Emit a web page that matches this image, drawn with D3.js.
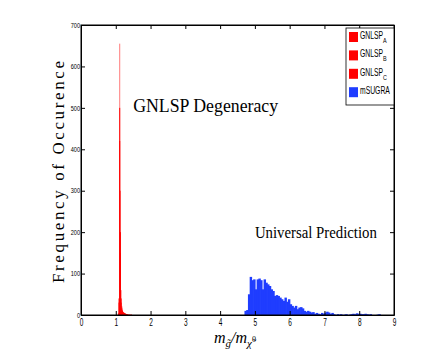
<!DOCTYPE html>
<html lang="en">
<head>
<meta charset="UTF-8">
<script src="https://cdn.jsdelivr.net/npm/d3@7"></script>
<style>
  body { margin: 0; background: #fff; }
  svg { background: #fff; }
  .tick text { font-family: "Liberation Sans", Arial, sans-serif; fill: #000; }
  .serif { font-family: "Liberation Serif", "DejaVu Serif", serif; }
</style>
</head>
<body>
<div id="chart"></div>
<script>
// histogram data
var redBinW = 0.02;
var gnlspAStart = 1.10;
var gnlspA = [655, 300, 60, 22, 12, 8, 6, 5, 4, 3, 2, 2, 1, 1];
var gnlspBStart = 1.08;
var gnlspB = [40, 500, 200, 40, 18, 10, 7, 5, 4, 3, 2, 2, 1];
var gnlspCStart = 1.06;
var gnlspC = [4, 30, 420, 150, 30, 15, 9, 6, 5, 4, 3, 2, 2, 1, 1, 1, 1, 1, 1, 1];

var blueBinW = 0.05;
var msugraStart = 4.70;
var msugra = [10, 12, 50, 92, 84, 86, 62, 86, 88, 84, 62, 86, 78, 74, 70, 62, 58, 46, 48, 46,
  42, 38, 34, 42, 32, 38, 26, 22, 18, 22, 14, 18, 19, 16, 10, 8, 10, 8, 6, 7,
  3, 5, 3, 2, 5, 3, 6, 8, 6, 3, 5, 2, 0, 2, 1, 2, 0, 1, 2, 0,
  1, 2, 3, 2, 4, 3, 3, 2, 2, 3, 2, 1, 2, 0, 0, 0, 1, 2];

var xTicks = [0, 1, 2, 3, 4, 5, 6, 7, 8, 9];
var yTicks = [0, 100, 200, 300, 400, 500, 600, 700];
var legendNames = [["GNLSP", "A"], ["GNLSP", "B"], ["GNLSP", "C"], ["mSUGRA", ""]];
var legendColors = ["#ff0000", "#ff0000", "#ff0000", "#1f3dff"];

var W = 436, H = 354;
var margin = {top: 25, right: 42, bottom: 39, left: 81};
var width = W - margin.left - margin.right;
var height = H - margin.top - margin.bottom;

var svg = d3.select("#chart").append("svg")
  .attr("width", W)
  .attr("height", H);

var g = svg.append("g")
  .attr("transform", "translate(" + margin.left + "," + margin.top + ")");

var x = d3.scaleLinear().domain([0, 9]).range([0, width]);
var y = d3.scaleLinear().domain([0, 700]).range([height, 0]);

function toBins(start, w, counts) {
  return counts.map(function(c, i) { return {x0: start + i * w, x1: start + (i + 1) * w, n: c}; });
}

// pad: a little overlap so neighbouring bars don't leave light seams
function drawHist(bins, color, op, pad) {
  g.append("g").selectAll("rect")
    .data(bins.filter(function(d) { return d.n > 0; }))
    .enter().append("rect")
    .attr("x", function(d) { return x(d.x0); })
    .attr("width", function(d) { return x(d.x1) - x(d.x0) + pad; })
    .attr("y", function(d) { return y(d.n); })
    .attr("height", function(d) { return y(0) - y(d.n); })
    .attr("fill", color)
    .attr("fill-opacity", op);
}

drawHist(toBins(gnlspCStart, redBinW, gnlspC), "#ff0000", 1, 0.25);
drawHist(toBins(gnlspBStart, redBinW, gnlspB), "#ff0000", 1, 0.25);
drawHist(toBins(gnlspAStart, redBinW, gnlspA), "#ff0000", 0.55, 0.25);
drawHist(toBins(msugraStart, blueBinW, msugra), "#1f3dff", 1, 0.7);

// axes, ticks pointing inward on all four sides
var xb = g.append("g").attr("transform", "translate(0," + height + ")")
  .call(d3.axisBottom(x).tickValues(xTicks).tickSizeInner(-4).tickSizeOuter(0).tickPadding(4));
xb.selectAll(".tick text")
  .style("font-size", "10.5px")
  .attr("transform", "scale(0.62,1)");

var yl = g.append("g")
  .call(d3.axisLeft(y).tickValues(yTicks).tickSizeInner(-4).tickSizeOuter(0).tickPadding(1));
yl.selectAll(".tick text")
  .style("font-size", "7px")
  .attr("transform", "scale(0.8,1)")
  .attr("x", -1 / 0.8);

g.append("g")
  .call(d3.axisTop(x).tickValues(xTicks).tickSizeInner(-4).tickSizeOuter(0).tickFormat(""));
g.append("g").attr("transform", "translate(" + width + ",0)")
  .call(d3.axisRight(y).tickValues(yTicks).tickSizeInner(-4).tickSizeOuter(0).tickFormat(""));

g.selectAll(".domain").attr("stroke", "#000");

g.append("rect")
  .attr("width", width).attr("height", height)
  .attr("fill", "none").attr("stroke", "#000").attr("stroke-width", 1);

// legend
var leg = g.append("g").attr("transform", "translate(" + (width - 48) + ",3)");
leg.append("rect")
  .attr("width", 48).attr("height", 77)
  .attr("fill", "#fff").attr("stroke", "#000").attr("stroke-width", 0.8);
legendNames.forEach(function(nm, i) {
  var row = leg.append("g").attr("transform", "translate(3," + (4 + i * 18.4) + ")");
  row.append("rect").attr("width", 9).attr("height", 10).attr("fill", legendColors[i]);
  var t = row.append("text")
    .attr("transform", "translate(11,7) scale(0.68,1)")
    .style("font-family", "'Liberation Sans', Arial, sans-serif")
    .style("font-size", "10px");
  t.append("tspan").text(nm[0]);
  if (nm[1]) t.append("tspan").attr("dy", 4).style("font-size", "8px").text(nm[1]);
});

// annotations
g.append("text").attr("class", "serif")
  .attr("x", x(1.5)).attr("y", y(490))
  .attr("textLength", 145).attr("lengthAdjust", "spacingAndGlyphs")
  .style("font-size", "18px")
  .text("GNLSP Degeneracy");

g.append("text").attr("class", "serif")
  .attr("x", x(5)).attr("y", y(185))
  .attr("textLength", 122).attr("lengthAdjust", "spacingAndGlyphs")
  .style("font-size", "16px")
  .text("Universal Prediction");

// axis titles
svg.append("text").attr("class", "serif")
  .attr("transform", "translate(64," + (margin.top + height / 2 + 2) + ") rotate(-90)")
  .attr("text-anchor", "middle")
  .attr("textLength", 222).attr("lengthAdjust", "spacing")
  .style("font-size", "17px")
  .text("Frequency of Occurence");

var xt = svg.append("text").attr("class", "serif")
  .attr("x", 214).attr("y", 343)
  .style("font-size", "16px").style("font-style", "italic");
xt.append("tspan").text("m");
xt.append("tspan").attr("dy", 4).style("font-size", "11px").text("g\u0303");
xt.append("tspan").attr("dy", -4).text("/m");
xt.append("tspan").attr("dy", 4).style("font-size", "11px").text("\u03c7\u0303");
xt.append("tspan").attr("dy", -5).style("font-size", "8px").style("font-style", "normal").text("0");
</script>
</body>
</html>
